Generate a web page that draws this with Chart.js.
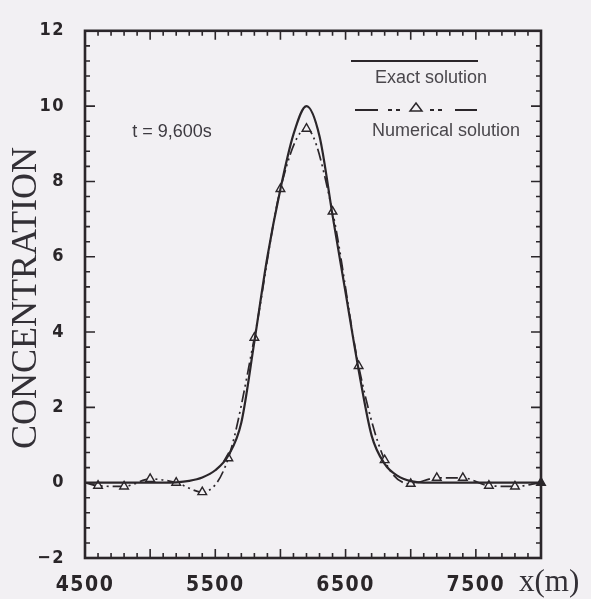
<!DOCTYPE html>
<html>
<head>
<meta charset="utf-8">
<script src="https://cdn.jsdelivr.net/npm/chart.js@4"></script>
<style>
  html, body { margin: 0; padding: 0; background: #f2f0f3; }
  canvas { display: block; }
</style>
</head>
<body>
<canvas id="chart" width="591" height="599"></canvas>
<script>
// x positions (m) and concentrations
const exactX = [4500, 4600, 4700, 4800, 4900, 5000, 5100, 5200, 5300, 5400, 5500, 5600, 5700, 5800, 5900, 6000,
    6100, 6200, 6300, 6400, 6500, 6600, 6700, 6800, 6900, 7000, 7100, 7200, 7400, 7600, 7800, 8000];
const exactC = [0, 0, 0, 0, 0, 0, 0, 0.01, 0.05, 0.14, 0.33, 0.72, 1.6, 3.75, 6.0, 7.8,
    9.25, 10.0, 9.2, 7.1, 5.05, 3.0, 1.25, 0.5, 0.18, 0.04, 0, 0, 0, 0, 0, 0];

const numX = [4500, 4600, 4800, 5000, 5200, 5400, 5600, 5800, 6000, 6200, 6400, 6600, 6800, 7000, 7200, 7400, 7600, 7800, 8000];
const numC = [0, -0.08, -0.1, 0.1, 0.0, -0.25, 0.65, 3.85, 7.8, 9.4, 7.2, 3.1, 0.6, -0.03, 0.13, 0.13, -0.08, -0.1, 0];

const xTickLabels = [4500, 5500, 6500, 7500];
const yTickLabels = [-2, 0, 2, 4, 6, 8, 10, 12];

const ink = '#2b262a';
const paper = '#f2f0f3';
const numDash = [12, 4, 2, 4, 2, 4];

const frameTicks = {
    id: 'frameTicks',
    beforeDraw(chart) {
        chart.ctx.letterSpacing = '1.5px';
    },
    beforeDatasetsDraw(chart) {
        chart.ctx.letterSpacing = '0px';
    },
    afterDraw(chart) {
        const ctx = chart.ctx;
        const xs = chart.scales.x;
        const ys = chart.scales.y;
        const { left, right, top, bottom } = chart.chartArea;

        ctx.save();
        ctx.strokeStyle = ink;
        ctx.lineWidth = 1.6;
        ctx.beginPath();
        // inward ticks, x every 100 m (major 500), y every 0.4 (major 2)
        for (let i = 1; i < 35; i++) {
            const px = xs.getPixelForValue(4500 + i * 100);
            const len = i % 5 === 0 ? 9 : 5;
            ctx.moveTo(px, bottom); ctx.lineTo(px, bottom - len);
            ctx.moveTo(px, top); ctx.lineTo(px, top + len);
        }
        for (let i = 1; i < 35; i++) {
            const py = ys.getPixelForValue(-2 + i * 0.4);
            const len = i % 5 === 0 ? 10 : 5;
            ctx.moveTo(left, py); ctx.lineTo(left + len, py);
            ctx.moveTo(right, py); ctx.lineTo(right - len, py);
        }
        ctx.stroke();

        ctx.lineWidth = 2.6;
        ctx.strokeRect(left, top, right - left, bottom - top);

        // axis titles
        ctx.fillStyle = '#333036';
        ctx.font = '36px "Liberation Serif", serif';
        ctx.textAlign = 'center';
        ctx.textBaseline = 'middle';
        ctx.save();
        ctx.translate(27, 298);
        ctx.rotate(-Math.PI / 2);
        ctx.fillText('CONCENTRATION', 0, 0);
        ctx.restore();

        ctx.font = '31px "Liberation Serif", serif';
        ctx.textAlign = 'left';
        ctx.textBaseline = 'alphabetic';
        ctx.fillText('x(m)', 519, 591);

        // annotation
        ctx.fillStyle = '#3d3a40';
        ctx.font = '18px "Liberation Sans", Arial, sans-serif';
        ctx.textAlign = 'center';
        ctx.textBaseline = 'middle';
        ctx.fillText('t = 9,600s', 172, 132);

        // legend
        ctx.lineWidth = 2;
        ctx.beginPath();
        ctx.moveTo(351, 61); ctx.lineTo(478, 61);
        ctx.stroke();
        ctx.fillStyle = '#4a474c';
        ctx.fillText('Exact solution', 431, 78);

        ctx.lineWidth = 2.2;
        ctx.beginPath();
        [[355, 378], [388, 392], [396, 400], [430, 434], [438, 442], [455, 477]].forEach(([a, b]) => {
            ctx.moveTo(a, 110); ctx.lineTo(b, 110);
        });
        ctx.stroke();
        ctx.lineWidth = 1.5;
        ctx.beginPath();
        ctx.moveTo(416, 103); ctx.lineTo(422, 111); ctx.lineTo(410, 111); ctx.closePath();
        ctx.stroke();
        ctx.fillText('Numerical solution', 446, 131);
        ctx.restore();
    }
};

const tickFont = { family: '"DejaVu Sans Condensed", "Liberation Sans Narrow", "DejaVu Sans", sans-serif', weight: 'bold' };

new Chart(document.getElementById('chart'), {
    type: 'line',
    data: {
        datasets: [{
            label: 'Exact solution',
            data: exactX.map((x, i) => ({ x, y: exactC[i] })),
            borderColor: ink,
            borderWidth: 2.2,
            pointRadius: 0,
            cubicInterpolationMode: 'monotone'
        }, {
            label: 'Numerical solution',
            data: numX.map((x, i) => ({ x, y: numC[i] })),
            borderColor: ink,
            borderWidth: 1.7,
            borderDash: numDash,
            cubicInterpolationMode: 'monotone',
            pointStyle: 'triangle',
            pointRadius: numX.map((x, i) => (i === 0 ? 0 : 5)),
            pointBorderWidth: 1.4,
            pointBorderColor: ink,
            pointBackgroundColor: numX.map((x, i) => (i === numX.length - 1 ? ink : paper)),
            clip: 8
        }]
    },
    options: {
        responsive: false,
        animation: false,
        layout: { padding: { top: 23, right: 50, left: 0, bottom: 0 } },
        plugins: { legend: { display: false }, tooltip: { enabled: false } },
        scales: {
            x: {
                type: 'linear',
                min: 4500,
                max: 8000,
                afterBuildTicks: (s) => { s.ticks = xTickLabels.map((v) => ({ value: v })); },
                afterFit: (s) => { s.height = 41; },
                grid: { display: false, drawTicks: false },
                border: { display: false },
                ticks: {
                    autoSkip: false,
                    maxRotation: 0,
                    padding: 15,
                    color: '#2a2629',
                    font: { ...tickFont, size: 21 },
                    callback: (v) => String(v)
                }
            },
            y: {
                type: 'linear',
                min: -2,
                max: 12,
                afterBuildTicks: (s) => { s.ticks = yTickLabels.map((v) => ({ value: v })); },
                afterFit: (s) => { s.width = 85; },
                grid: { display: false, drawTicks: false },
                border: { display: false },
                ticks: {
                    padding: 20,
                    color: '#2a2629',
                    font: { ...tickFont, size: 18 },
                    callback: (v) => (v < 0 ? '\u2212' + Math.abs(v) : String(v))
                }
            }
        }
    },
    plugins: [frameTicks]
});
</script>
</body>
</html>
